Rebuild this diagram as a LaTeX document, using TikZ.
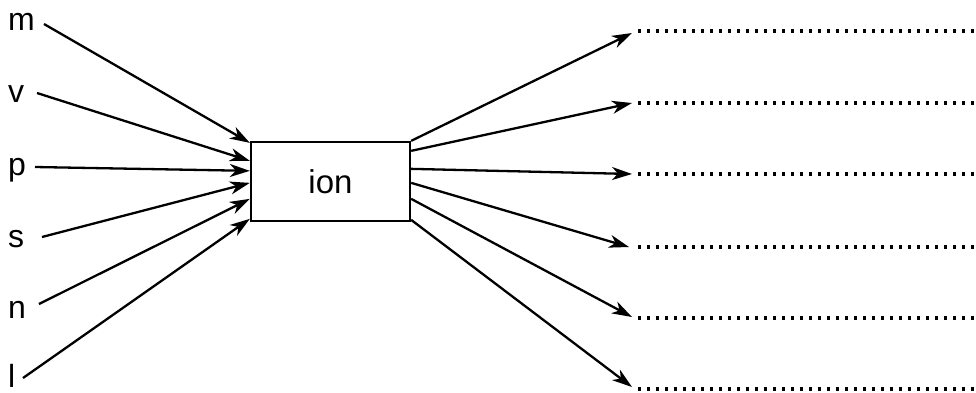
\documentclass[tikz,border=0pt]{standalone}
\usepackage{fontspec}
\setmainfont{Liberation Sans}
\usetikzlibrary{arrows.meta,calc}
\begin{document}
\begin{tikzpicture}[x=1pt,y=-1pt,
  lbl/.style={inner sep=0pt, font=\fontsize{32}{38}\selectfont, anchor=base west},
  arr/.style={line width=2.3pt, -{Stealth[length=20pt,width=13pt,inset=6pt]}},
  dotrow/.style={line width=3.4pt, dash pattern=on 3.4pt off 5.6pt},
  box/.style={draw, line width=2.3pt, minimum width=159pt, minimum height=79pt, inner sep=0pt, font=\fontsize{33}{38}\selectfont}]
\useasboundingbox (0,0) rectangle (976,392);
% labels
\node[lbl] (m) at (8,30) {m};
\node[lbl] (v) at (8,102) {v};
\node[lbl] (p) at (8,175) {p};
\node[lbl] (s) at (8,247) {s};
\node[lbl] (n) at (8,318) {n};
\node[lbl] (l) at (8,387) {l};
% box
\node[box] (ion) at (330.5,181.5) {ion};
% start coordinates beside labels
\coordinate (ms) at (44,24);
\coordinate (vs) at (37,93);
\coordinate (ps) at (35,167);
\coordinate (ss) at (42,237);
\coordinate (ns) at (39,304);
\coordinate (ls) at (23,378);
% inputs
\draw[arr] (ms) -- ($(ion.north west)+(0,2)$);
\draw[arr] (vs) -- ($(ion.north west)+(0,20)$);
\draw[arr] (ps) -- ($(ion.north west)+(0,30)$);
\draw[arr] (ss) -- ($(ion.north west)+(0,42)$);
\draw[arr] (ns) -- ($(ion.north west)+(0,58)$);
\draw[arr] (ls) -- ($(ion.north west)+(0,78)$);
% output tips
\coordinate (t1) at (632,33);
\coordinate (t2) at (632,103);
\coordinate (t3) at (632,174);
\coordinate (t4) at (629,247);
\coordinate (t5) at (632,317);
\coordinate (t6) at (632,387);
\draw[arr] ($(ion.north east)+(0,0)$) -- (t1);
\draw[arr] ($(ion.north east)+(0,10)$) -- (t2);
\draw[arr] ($(ion.north east)+(0,28)$) -- (t3);
\draw[arr] ($(ion.north east)+(0,42)$) -- (t4);
\draw[arr] ($(ion.north east)+(0,58)$) -- (t5);
\draw[arr] ($(ion.north east)+(0,79)$) -- (t6);
% dotted rows
\coordinate (d1) at (638,31);
\coordinate (d2) at (638,103);
\coordinate (d3) at (638,174);
\coordinate (d4) at (638,247);
\coordinate (d5) at (638,318);
\coordinate (d6) at (638,389);
\foreach \d in {d1,d2,d3,d4,d5,d6}{
  \draw[dotrow] (\d) -- ++(345,0);
}
\end{tikzpicture}
\end{document}
